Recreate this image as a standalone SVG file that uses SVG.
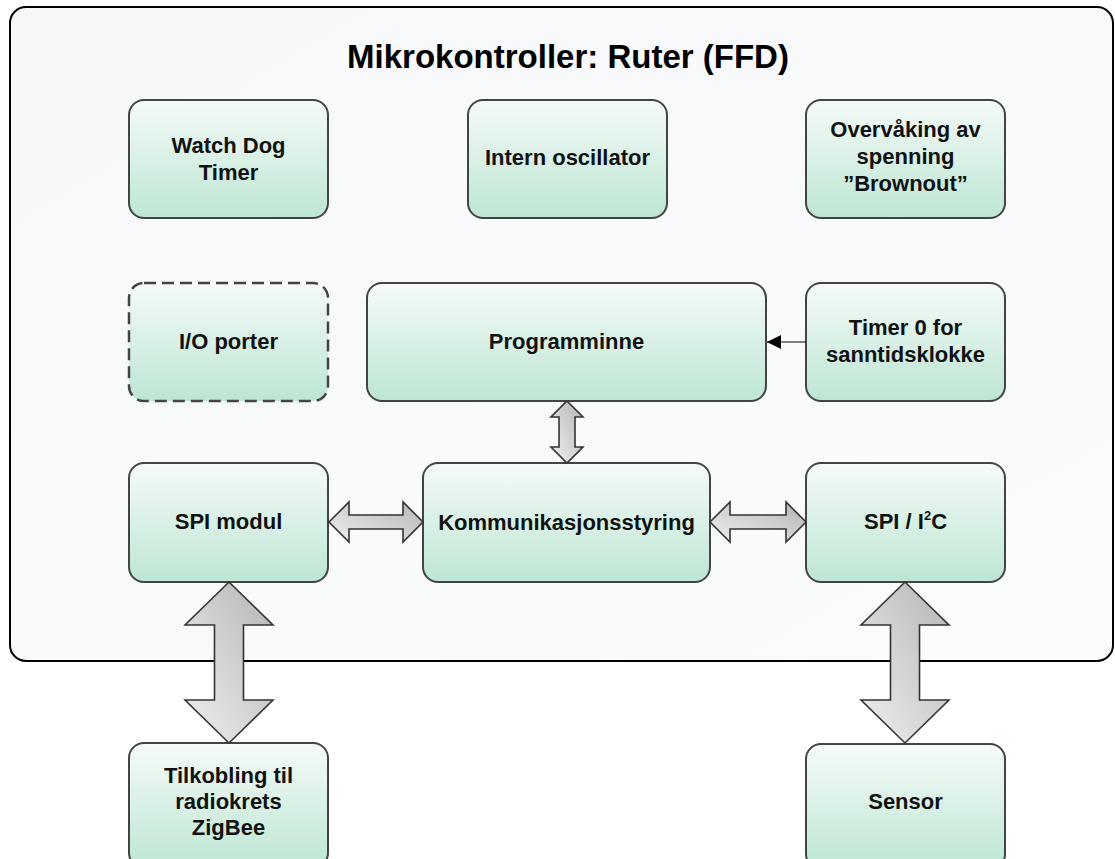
<svg xmlns="http://www.w3.org/2000/svg" width="1115" height="859" viewBox="0 0 1115 859">
  <defs>
    <linearGradient id="nodeFill" x1="0" y1="0" x2="0" y2="1">
      <stop offset="0" stop-color="#f5faf8"/>
      <stop offset="1" stop-color="#bde6d3"/>
    </linearGradient>
    <linearGradient id="panelFill" x1="0" y1="0" x2="1" y2="1">
      <stop offset="0" stop-color="#f6f8fa"/>
      <stop offset="1" stop-color="#f9fbfd"/>
    </linearGradient>
    <linearGradient id="arrowFill" x1="0" y1="1" x2="1" y2="0">
      <stop offset="0" stop-color="#f0f0f0"/>
      <stop offset="1" stop-color="#b4b4b4"/>
    </linearGradient>
    <marker id="tri" markerWidth="14" markerHeight="14" refX="14" refY="7" orient="auto" markerUnits="userSpaceOnUse">
      <path d="M0,0 L14,7 L0,14 Z" fill="#000"/>
    </marker>
    <style>
      .node { fill: url(#nodeFill); stroke: #444; stroke-width: 2; }
      .dashed { stroke-dasharray: 12 6; stroke-width: 2.5; }
      .label { font-family: "Liberation Sans", Arial, sans-serif; font-weight: bold; font-size: 22px; fill: #111; text-anchor: middle; }
      .title { font-family: "Liberation Sans", Arial, sans-serif; font-weight: bold; font-size: 33px; fill: #000; text-anchor: middle; }
      .block { fill: url(#arrowFill); stroke: #333; stroke-width: 1.6; stroke-linejoin: miter; }
      .thin { stroke: #000; stroke-width: 1; fill: none; }
    </style>
  </defs>

  <rect width="1115" height="859" fill="#ffffff"/>

  <!-- microcontroller frame -->
  <g id="mikrokontroller">
    <rect x="10" y="7" width="1103" height="654" rx="16" fill="url(#panelFill)" stroke="#000" stroke-width="2"/>
    <text class="title" x="568" y="68">Mikrokontroller: Ruter (FFD)</text>
  </g>

  <g id="watchdog">
    <rect class="node" x="129" y="100" width="199" height="118" rx="15"/>
    <text class="label" x="228.5" y="153">Watch Dog</text>
    <text class="label" x="228.5" y="180">Timer</text>
  </g>

  <g id="oscillator">
    <rect class="node" x="468" y="100" width="199" height="118" rx="15"/>
    <text class="label" x="567.5" y="165">Intern oscillator</text>
  </g>

  <g id="brownout">
    <rect class="node" x="806" y="100" width="199" height="118" rx="15"/>
    <text class="label" x="905.5" y="137">Overvåking av</text>
    <text class="label" x="905.5" y="164">spenning</text>
    <text class="label" x="905.5" y="191">”Brownout”</text>
  </g>

  <g id="io-porter">
    <rect class="node dashed" x="129" y="283" width="199" height="118" rx="15"/>
    <text class="label" x="228.5" y="349">I/O porter</text>
  </g>

  <g id="programminne">
    <rect class="node" x="367" y="283" width="399" height="118" rx="15"/>
    <text class="label" x="566.5" y="349">Programminne</text>
  </g>

  <g id="timer0">
    <rect class="node" x="806" y="283" width="199" height="118" rx="15"/>
    <text class="label" x="905.5" y="335">Timer 0 for</text>
    <text class="label" x="905.5" y="362">sanntidsklokke</text>
  </g>

  <g id="spi-modul">
    <rect class="node" x="129" y="463" width="199" height="119" rx="15"/>
    <text class="label" x="228.5" y="529">SPI modul</text>
  </g>

  <g id="kommunikasjon">
    <rect class="node" x="423" y="463" width="287" height="119" rx="15"/>
    <text class="label" x="566.5" y="530">Kommunikasjonsstyring</text>
  </g>

  <g id="spi-i2c">
    <rect class="node" x="806" y="463" width="199" height="119" rx="15"/>
    <text class="label" x="905.5" y="529">SPI / I<tspan font-size="13" dy="-9">2</tspan><tspan dy="9">C</tspan></text>
  </g>

  <g id="zigbee">
    <rect class="node" x="129" y="743" width="199" height="125" rx="15"/>
    <text class="label" x="228.5" y="783">Tilkobling til</text>
    <text class="label" x="228.5" y="809">radiokrets</text>
    <text class="label" x="228.5" y="835">ZigBee</text>
  </g>

  <g id="sensor">
    <rect class="node" x="806" y="744" width="199" height="125" rx="15"/>
    <text class="label" x="905.5" y="809">Sensor</text>
  </g>

  <!-- connectors -->
  <g id="connectors">
    <line class="thin" x1="806" y1="342" x2="767" y2="342" marker-end="url(#tri)"/>
    <path class="block" d="M567,401 L583,417 L575,417 L575,447 L583,447 L567,463 L551,447 L559,447 L559,417 L551,417 Z"/>
    <path class="block" d="M329,522 L349,502 L349,515 L403,515 L403,502 L423,522 L403,542 L403,529 L349,529 L349,542 Z"/>
    <path class="block" d="M710,522 L730,502 L730,515 L786,515 L786,502 L806,522 L786,542 L786,529 L730,529 L730,542 Z"/>
    <path class="block" d="M229,582 L273,625 L243.5,625 L243.5,700 L273,700 L229,743 L185,700 L214.5,700 L214.5,625 L185,625 Z"/>
    <path class="block" d="M905,582 L949,625 L919.5,625 L919.5,700 L949,700 L905,743 L861,700 L890.5,700 L890.5,625 L861,625 Z"/>
  </g>
</svg>
